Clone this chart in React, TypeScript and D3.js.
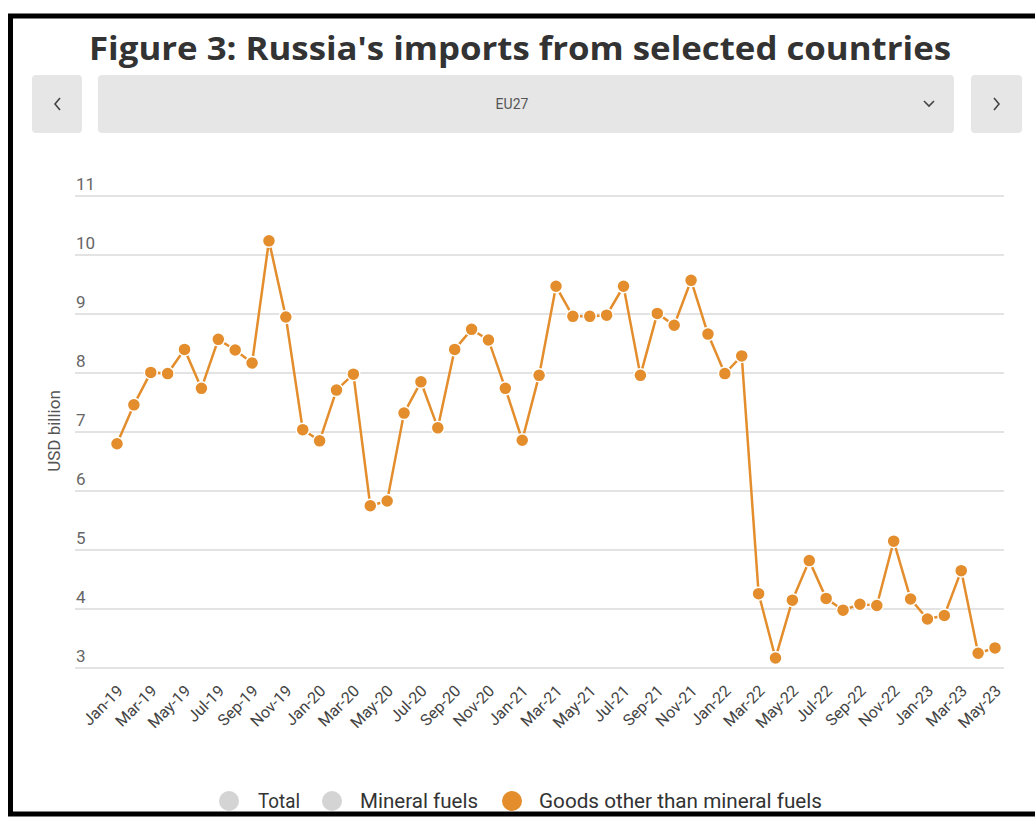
import React from 'react';
import * as d3 from 'd3';

// monthly imports from EU27, goods other than mineral fuels (USD billion)
const months = [
  'Jan-19', 'Feb-19', 'Mar-19', 'Apr-19', 'May-19', 'Jun-19', 'Jul-19', 'Aug-19', 'Sep-19', 'Oct-19', 'Nov-19', 'Dec-19',
  'Jan-20', 'Feb-20', 'Mar-20', 'Apr-20', 'May-20', 'Jun-20', 'Jul-20', 'Aug-20', 'Sep-20', 'Oct-20', 'Nov-20', 'Dec-20',
  'Jan-21', 'Feb-21', 'Mar-21', 'Apr-21', 'May-21', 'Jun-21', 'Jul-21', 'Aug-21', 'Sep-21', 'Oct-21', 'Nov-21', 'Dec-21',
  'Jan-22', 'Feb-22', 'Mar-22', 'Apr-22', 'May-22', 'Jun-22', 'Jul-22', 'Aug-22', 'Sep-22', 'Oct-22', 'Nov-22', 'Dec-22',
  'Jan-23', 'Feb-23', 'Mar-23', 'Apr-23', 'May-23',
];

const goodsOther = [
  6.80, 7.46, 8.01, 7.99, 8.40, 7.74, 8.57, 8.39, 8.17, 10.24, 8.95, 7.04,
  6.85, 7.71, 7.98, 5.75, 5.83, 7.32, 7.85, 7.07, 8.40, 8.74, 8.56, 7.74,
  6.86, 7.96, 9.47, 8.96, 8.96, 8.98, 9.47, 7.96, 9.01, 8.81, 9.57, 8.66,
  7.99, 8.29, 4.26, 3.17, 4.15, 4.82, 4.18, 3.98, 4.08, 4.06, 5.15, 4.17,
  3.83, 3.89, 4.65, 3.25, 3.34,
];

const yTicks = [3, 4, 5, 6, 7, 8, 9, 10, 11];

const legendItems = [
  { label: 'Total', color: '#d4d4d4', cx: 229, tx: 258, len: 42 },
  { label: 'Mineral fuels', color: '#d4d4d4', cx: 332, tx: 360, len: 118 },
  { label: 'Goods other than mineral fuels', color: '#e38d2c', cx: 512, tx: 539, len: 283 },
];

const ORANGE = '#e38d2c';
const FONT = 'Roboto, "Open Sans", sans-serif';

export default function App() {
  const width = 1035;
  const height = 817;

  const x = d3.scalePoint<string>().domain(months).range([117, 995]);
  const y = d3.scaleLinear().domain([3, 11]).range([668, 196]);

  const line = d3
    .line<number>()
    .x((_, i) => x(months[i]) as number)
    .y((d) => y(d));

  return (
    <svg
      width={width}
      height={height}
      style={{ position: 'absolute', left: 0, top: 0, background: '#fff' }}
      fontFamily={FONT}
    >
      {/* outer black frame */}
      <rect x={10.5} y={16} width={1040} height={798} fill="none" stroke="#000" strokeWidth={5} />

      {/* title */}
      <text
        x={520}
        y={60}
        textAnchor="middle"
        fontFamily='"Open Sans", sans-serif'
        fontWeight="bold"
        fontSize={33}
        fill="#333"
        textLength={862}
        lengthAdjust="spacingAndGlyphs"
      >
        Figure 3: Russia's imports from selected countries
      </text>

      {/* selector */}
      <rect x={32} y={75} width={50} height={58} rx={4} fill="#e6e6e6" />
      <rect x={98} y={75} width={856} height={58} rx={4} fill="#e6e6e6" />
      <rect x={971} y={75} width={51} height={58} rx={4} fill="#e6e6e6" />
      <path d="M60,98 L55,104 L60,110" fill="none" stroke="#444" strokeWidth={1.6} />
      <path d="M994,98 L999,104 L994,110" fill="none" stroke="#444" strokeWidth={1.6} />
      <path d="M924,101 L929,106 L934,101" fill="none" stroke="#444" strokeWidth={1.6} />
      <text x={512} y={109} textAnchor="middle" fontSize={14} fill="#555">
        EU27
      </text>

      {/* grid and y ticks */}
      {yTicks.map((t) => (
        <g key={t}>
          <line x1={75} x2={1004} y1={y(t)} y2={y(t)} stroke="#e3e3e3" strokeWidth={2} />
          <text x={76} y={y(t) - 6} fontSize={17} fill="#666">
            {t}
          </text>
        </g>
      ))}

      <text
        transform="translate(60,431) rotate(-90)"
        textAnchor="middle"
        fontSize={17}
        fill="#555"
      >
        USD billion
      </text>

      {/* x labels, every second month */}
      {months.map((m, i) =>
        i % 2 === 0 ? (
          <text
            key={m}
            transform={`translate(${(x(m) as number) + 7},${692}) rotate(-45)`}
            textAnchor="end"
            fontSize={16}
            fill="#444"
          >
            {m}
          </text>
        ) : null
      )}

      {/* series */}
      <path d={line(goodsOther) || ''} fill="none" stroke={ORANGE} strokeWidth={2.5} />
      {goodsOther.map((v, i) => (
        <circle
          key={months[i]}
          cx={x(months[i]) as number}
          cy={y(v)}
          r={6.5}
          fill={ORANGE}
          stroke="#fff"
          strokeWidth={1.5}
        />
      ))}

      {/* legend */}
      {legendItems.map((item) => (
        <g key={item.label}>
          <circle cx={item.cx} cy={801} r={10} fill={item.color} />
          <text
            x={item.tx}
            y={808}
            fontSize={20}
            fill="#333"
            textLength={item.len}
            lengthAdjust="spacingAndGlyphs"
          >
            {item.label}
          </text>
        </g>
      ))}
    </svg>
  );
}
